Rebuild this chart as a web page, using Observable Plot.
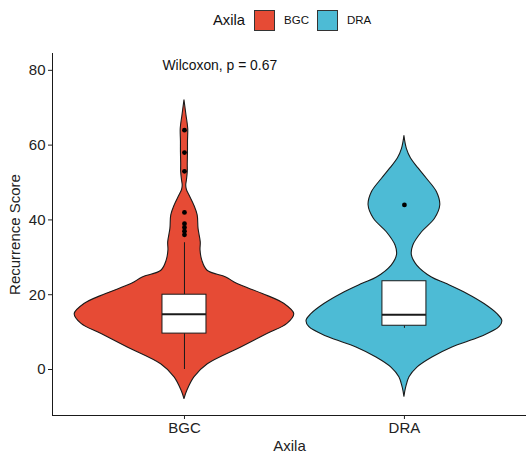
<!DOCTYPE html>
<html>
<head>
<meta charset="utf-8">
<script src="https://cdn.jsdelivr.net/npm/d3@7"></script>
<script src="https://cdn.jsdelivr.net/npm/@observablehq/plot@0.6"></script>
<style>
  body { margin: 0; background: #fff; font-family: "Liberation Sans", Arial, sans-serif; }
  #legend { height: 40px; display: flex; align-items: center; padding-left: 213px; box-sizing: border-box; color: #111; }
  #legend .title { font-size: 14.8px; margin-right: 9px; }
  #legend .sw { width: 19px; height: 19px; border: 1px solid #333; margin-right: 9px; }
  #legend .lab { font-size: 11.5px; margin-right: 8px; }
</style>
</head>
<body>
<div id="legend"></div>
<div id="chart"></div>
<script>
// ---- data ----
const groups = ["BGC", "DRA"];
const colors = ["#E64B35", "#4DBBD5"];
const legendTitle = "Axila";
const yTicks = [0, 20, 40, 60, 80];
const yDomain = [-12.3, 84.5];
const xDomain = [0.4, 2.555];

// violin outline: value and half-width (in category units)
const bgcValues = [72.0, 68.0, 64.4, 61.0, 58.1, 55.0, 52.8, 50.5, 49.2, 48.0, 46.5, 43.8, 41.2, 37.6, 34.0, 31.8, 29.1, 26.4, 24.6, 22.9, 20.2, 17.5, 14.8, 12.2, 9.5, 5.9, 1.4, -2.1, -5.7, -7.9];
const bgcWidths = [0, 0.009, 0.017, 0.016, 0.016, 0.015, 0.015, 0.011, 0.008, 0.011, 0.023, 0.045, 0.060, 0.064, 0.074, 0.073, 0.081, 0.105, 0.19, 0.239, 0.356, 0.455, 0.499, 0.468, 0.377, 0.258, 0.106, 0.045, 0.013, 0];
const draValues = [62.4, 59.0, 56.4, 53.7, 51.0, 47.4, 43.9, 40.3, 36.7, 33.1, 30.5, 27.8, 24.6, 22.9, 20.2, 17.5, 14.8, 13.0, 11.3, 8.6, 5.9, 3.2, 0.5, -2.1, -4.8, -7.3];
const draWidths = [0, 0.011, 0.030, 0.065, 0.102, 0.148, 0.163, 0.139, 0.080, 0.040, 0.034, 0.058, 0.125, 0.19, 0.286, 0.364, 0.423, 0.445, 0.432, 0.345, 0.218, 0.127, 0.059, 0.023, 0.008, 0];

// box statistics
const boxLower = [0, 11.0];
const boxQ1 = [9.6, 11.7];
const boxMedian = [14.8, 14.65];
const boxQ3 = [20.0, 23.6];
const boxUpper = [33.9, 23.6];

// outliers
const bgcOutliers = [64, 58, 53, 42, 39, 38, 37, 36];
const draOutliers = [44];

const annotationText = "Wilcoxon, p = 0.67";
const annotationX = [0.9];
const annotationY = [81.4];

// ---- build tables ----
const violin = [
  ...bgcValues.map((v, i) => ({group: "BGC", pos: 1, value: v, hw: bgcWidths[i]})),
  ...draValues.map((v, i) => ({group: "DRA", pos: 2, value: v, hw: draWidths[i]}))
];
const boxes = groups.map((g, i) => ({group: g, pos: i + 1, lower: boxLower[i], q1: boxQ1[i], median: boxMedian[i], q3: boxQ3[i], upper: boxUpper[i]}));
const outliers = [
  ...bgcOutliers.map(v => ({pos: 1, value: v})),
  ...draOutliers.map(v => ({pos: 2, value: v}))
];
const boxHalf = 0.1;
const ink = "#1a1a1a";

// legend (HTML, above the svg)
const legend = document.getElementById("legend");
legend.innerHTML = `<span class="title">${legendTitle}</span>` +
  groups.map((g, i) => `<span class="sw" style="background:${colors[i]}"></span><span class="lab">${g}</span>`).join("");

const chart = Plot.plot({
  width: 526,
  height: 413,
  marginLeft: 52,
  marginRight: 0,
  marginTop: 13,
  marginBottom: 38,
  style: {fontFamily: "'Liberation Sans', Arial, sans-serif", color: "#222", background: "white"},
  x: {type: "linear", domain: xDomain},
  y: {domain: yDomain},
  color: {domain: groups, range: colors},
  marks: [
    Plot.areaX(violin, {
      y: "value",
      x1: d => d.pos - d.hw,
      x2: d => d.pos + d.hw,
      z: "group",
      fill: "group",
      stroke: ink,
      strokeWidth: 1.1,
      curve: "catmull-rom"
    }),
    Plot.ruleX(boxes, {x: "pos", y1: "q3", y2: "upper", stroke: ink, strokeWidth: 1}),
    Plot.ruleX(boxes, {x: "pos", y1: "lower", y2: "q1", stroke: ink, strokeWidth: 1}),
    Plot.rect(boxes, {x1: d => d.pos - boxHalf, x2: d => d.pos + boxHalf, y1: "q1", y2: "q3", fill: "white", stroke: ink, strokeWidth: 1}),
    Plot.ruleY(boxes, {y: "median", x1: d => d.pos - boxHalf, x2: d => d.pos + boxHalf, stroke: ink, strokeWidth: 2}),
    Plot.dot(outliers, {x: "pos", y: "value", r: 2.4, fill: "black", stroke: null}),
    Plot.text([annotationText], {x: annotationX, y: annotationY, text: d => d, textAnchor: "start", fontSize: 13.9, fill: "#111"}),
    Plot.ruleX([xDomain[0]], {y1: yDomain[0], y2: yDomain[1], stroke: ink, strokeWidth: 1}),
    Plot.ruleY([yDomain[0]], {stroke: ink, strokeWidth: 1}),
    Plot.axisY({ticks: yTicks, tickSize: 4, tickPadding: 3, fontSize: 15, label: "Recurrence Score", labelAnchor: "center", labelOffset: 43, labelArrow: "none"}),
    Plot.axisX({ticks: [1, 2], tickFormat: i => groups[i - 1], tickSize: 4, tickPadding: 3, fontSize: 15, label: null}),
    Plot.axisX({ticks: [], label: "Axila", labelAnchor: "center", labelOffset: 35, labelArrow: "none", fontSize: 15, dx: 4})
  ]
});
document.getElementById("chart").appendChild(chart);
</script>
</body>
</html>
